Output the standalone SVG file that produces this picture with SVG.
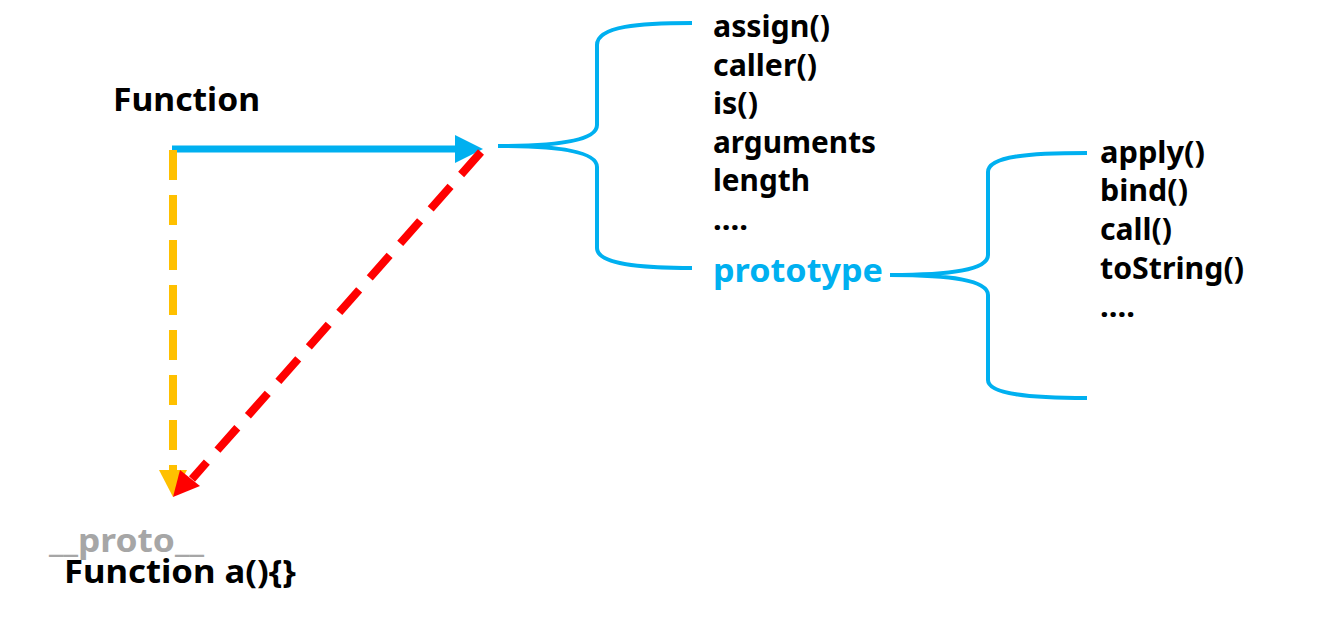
<svg xmlns="http://www.w3.org/2000/svg" width="1317" height="631" viewBox="0 0 1317 631">
<style>
.t{font-family:"Noto Sans","Open Sans","DejaVu Sans",sans-serif;font-weight:bold;font-size:29.5px;fill:#000}
.b{font-size:33px}
.brace{fill:none;stroke:#00b0f0;stroke-width:4;stroke-linecap:butt}
</style>
<rect width="1317" height="631" fill="#fff"/>
<g id="function-node"><text class="t b" x="113" y="111" textLength="147" lengthAdjust="spacingAndGlyphs">Function</text></g>
<g id="proto-node">
<text class="t b" x="49" y="552" style="fill:#a6a6a6" textLength="155" lengthAdjust="spacingAndGlyphs">__proto__</text>
<text class="t b" x="64" y="583" textLength="232" lengthAdjust="spacingAndGlyphs">Function a(){}</text>
</g>
<g id="function-props">
<path class="brace" d="M692,23 C640,23 597,26 597,45 L597,125 C597,140 560,146 498,146 C560,146 597,152 597,167 L597,248 C597,264 640,268 692,268"/>
<text class="t" x="713" y="37" textLength="117" lengthAdjust="spacingAndGlyphs">assign()</text>
<text class="t" x="713" y="76" textLength="104" lengthAdjust="spacingAndGlyphs">caller()</text>
<text class="t" x="713" y="114" textLength="45" lengthAdjust="spacingAndGlyphs">is()</text>
<text class="t" x="713" y="153" textLength="163" lengthAdjust="spacingAndGlyphs">arguments</text>
<text class="t" x="713" y="191" textLength="97" lengthAdjust="spacingAndGlyphs">length</text>
<text class="t" x="713" y="230" textLength="35" lengthAdjust="spacingAndGlyphs">....</text>
<text class="t b" x="713" y="282" style="fill:#00b0f0" textLength="170" lengthAdjust="spacingAndGlyphs">prototype</text>
</g>
<g id="prototype-props">
<path class="brace" d="M1087,153 C1030,153 988,156 988,172 L988,255 C988,270 950,275 890,275 C950,275 988,280 988,295 L988,380 C988,394 1030,398 1087,398"/>
<text class="t" x="1100" y="163" textLength="105" lengthAdjust="spacingAndGlyphs">apply()</text>
<text class="t" x="1100" y="201" textLength="88" lengthAdjust="spacingAndGlyphs">bind()</text>
<text class="t" x="1100" y="240" textLength="72" lengthAdjust="spacingAndGlyphs">call()</text>
<text class="t" x="1100" y="279" textLength="144" lengthAdjust="spacingAndGlyphs">toString()</text>
<text class="t" x="1100" y="317" textLength="35" lengthAdjust="spacingAndGlyphs">....</text>
</g>
<g id="connectors">
<line x1="172" y1="149" x2="458" y2="149" stroke="#00b0f0" stroke-width="7"/>
<polygon points="455,135 483,149 455,163" fill="#00b0f0"/>
<line x1="173" y1="150" x2="173" y2="472" stroke="#ffc000" stroke-width="8" stroke-dasharray="30,15"/>
<polygon points="159,470 187,470 173,497" fill="#ffc000"/>
<line x1="481" y1="152" x2="192" y2="479" stroke="#ff0000" stroke-width="8" stroke-dasharray="30,16"/>
<polygon points="180,470 200,486 173,497" fill="#ff0000"/>
</g>
</svg>
